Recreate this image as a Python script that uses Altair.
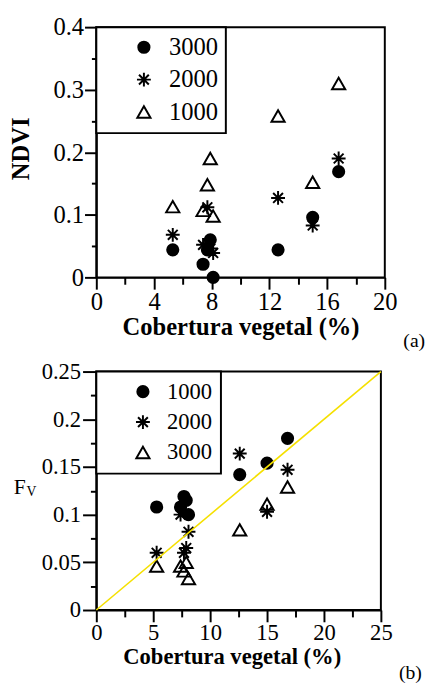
import altair as alt
import pandas as pd

SERIF = "Liberation Serif"

# ---- data ----
cover = [5.3, 7.4, 7.7, 7.9, 8.1, 12.6, 15.0, 16.8]
ndvi_3000 = [0.044, 0.021, 0.044, 0.060, 0.000, 0.044, 0.096, 0.169]
ndvi_2000 = [0.068, 0.052, 0.112, 0.046, 0.039, 0.127, 0.083, 0.190]
ndvi_1000 = [0.113, 0.107, 0.148, 0.190, 0.098, 0.258, 0.152, 0.310]

fv_1000 = [0.108, 0.108, 0.119, 0.115, 0.100, 0.142, 0.154, 0.180]
fv_2000 = [0.060, 0.100, 0.060, 0.065, 0.082, 0.164, 0.103, 0.147]
fv_3000 = [0.046, 0.046, 0.041, 0.050, 0.033, 0.084, 0.111, 0.129]

line_x = [0, 25]
line_y = [0, 0.25]

series_a = ["3000", "2000", "1000"]
series_b = ["1000", "2000", "3000"]

x_ticks_a = [0, 2, 4, 6, 8, 10, 12, 14, 16, 18, 20]
y_ticks_a = [0, 0.05, 0.1, 0.15, 0.2, 0.25, 0.3, 0.35, 0.4]
x_ticks_b = [0, 2.5, 5, 7.5, 10, 12.5, 15, 17.5, 20, 22.5, 25]
y_ticks_b = [0, 0.025, 0.05, 0.075, 0.1, 0.125, 0.15, 0.175, 0.2, 0.225, 0.25]

ASTERISK = ("M-1,0L1,0M0,-1L0,1M-0.7071,-0.7071L0.7071,0.7071"
            "M-0.7071,0.7071L0.7071,-0.7071")

df_a = pd.DataFrame({
    "cover": cover * 3,
    "val": ndvi_3000 + ndvi_2000 + ndvi_1000,
    "series": ["3000"] * 8 + ["2000"] * 8 + ["1000"] * 8,
})
df_b = pd.DataFrame({
    "cover": cover * 3,
    "val": fv_1000 + fv_2000 + fv_3000,
    "series": ["1000"] * 8 + ["2000"] * 8 + ["3000"] * 8,
})
df_line = pd.DataFrame({"cover": line_x, "val": line_y})


def make_axis(values, minor_test, fmt, font_size, major, minor, pad,
              title=None, title_size=None, title_x=None, title_y=None, baseline=None):
    kw = dict(
        values=values,
        format=fmt,
        labelExpr=f"({minor_test}) ? '' : datum.label",
        tickSize={"condition": {"test": minor_test, "value": minor}, "value": major},
        labelFontSize=font_size,
        labelPadding=pad,
        labelOverlap=False,
        labelFlush=False,
    )
    if baseline:
        kw["labelBaseline"] = baseline
    if title:
        kw.update(title=title, titleFont=SERIF, titleFontWeight="bold",
                  titleFontSize=title_size, titleBaseline="alphabetic",
                  titleY=title_y, titleColor="black")
        if title_x is not None:
            kw["titleX"] = title_x
    else:
        kw["title"] = None
    return alt.Axis(**kw)


def legend(font_size, padding, row_pad, sym_off, lab_off):
    return alt.Legend(
        title=None, orient="top-left", offset=0, padding=padding,
        strokeColor="black", fillColor="white",
        labelFont=SERIF, labelFontSize=font_size, labelColor="black",
        rowPadding=row_pad, symbolOffset=sym_off, labelOffset=lab_off,
        symbolStrokeWidth=2, symbolStrokeColor="black", symbolOpacity=1,
    )


def points(df, series, yaxis, xaxis, xdom, ydom, leg):
    return alt.Chart(df).mark_point(
        filled=False, opacity=1, strokeWidth=2
    ).encode(
        x=alt.X("cover:Q", scale=alt.Scale(domain=xdom, nice=False, zero=False), axis=xaxis),
        y=alt.Y("val:Q", scale=alt.Scale(domain=ydom, nice=False), axis=yaxis),
        shape=alt.Shape("series:N", scale=alt.Scale(domain=series,
                        range=["circle", ASTERISK, "triangle-up"]), legend=leg),
        fill=alt.Fill("series:N", scale=alt.Scale(domain=series,
                      range=["black", "transparent", "transparent"]), legend=leg),
        stroke=alt.Stroke("series:N", scale=alt.Scale(domain=series,
                          range=["black", "black", "black"]), legend=leg),
        size=alt.Size("series:N", scale=alt.Scale(type="ordinal", domain=series,
                      range=[130, 200, 180]), legend=leg),
    )


def label(text, x, y, size, weight="normal", angle=0, align="center", baseline="middle"):
    return alt.Chart(pd.DataFrame({"t": [text]})).mark_text(
        font=SERIF, fontSize=size, fontWeight=weight, angle=angle,
        align=align, baseline=baseline, color="black"
    ).encode(x=alt.value(x), y=alt.value(y), text="t:N")


W_A, H_A = 294, 255
W_B, H_B = 290, 243

xa = make_axis(x_ticks_a, "datum.value % 4 != 0", "d", 25, 12, 7, 21,
               title="Cobertura vegetal (%)", title_size=25, title_y=58,
               baseline="alphabetic")
ya = make_axis(y_ticks_a, "abs(datum.value*10 - round(datum.value*10)) > 0.001",
               ".1~f", 25, 12, 5, 1)
xb = make_axis(x_ticks_b, "datum.value % 5 != 0", "d", 23, 12, 7, 18,
               title="Cobertura vegetal (%)", title_size=23, title_y=55,
               title_x=138, baseline="alphabetic")
yb = make_axis(y_ticks_b, "abs(datum.value*20 - round(datum.value*20)) > 0.001",
               ".2~f", 23, 14, 6, 2)

top = alt.layer(
    points(df_a, series_a, ya, xa, [0, 20], [0, 0.4],
           legend(25, 8, 7, 28, 13)),
    label("NDVI", -77, 124, 25, weight="bold", angle=270),
    label("(a)", 324, 320, 20),
).properties(width=W_A, height=H_A)

line = alt.Chart(df_line).mark_line(color="#f5e000", strokeWidth=1.6).encode(
    x=alt.X("cover:Q", scale=alt.Scale(domain=[0, 25], nice=False), axis=xb),
    y=alt.Y("val:Q", scale=alt.Scale(domain=[0, 0.25], nice=False), axis=yb),
)

bottom = alt.layer(
    points(df_b, series_b, yb, xb, [0, 25], [0, 0.25],
           legend(23, 9, 7, 27, 13)),
    line,
    label("F", -78, 125, 22, align="center", baseline="alphabetic"),
    label("V", -66, 127, 14, align="center", baseline="alphabetic"),
    label("(b)", 320, 307, 20),
).properties(width=W_B, height=H_B)

chart = alt.vconcat(top, bottom, spacing=96, bounds="flush").resolve_scale(
    shape="independent", fill="independent", stroke="independent", size="independent"
).resolve_legend(
    shape="independent", fill="independent", stroke="independent", size="independent"
).properties(
    padding=0
).configure_view(
    stroke="black", strokeWidth=2
).configure_axis(
    grid=False, domainColor="black", domainWidth=2, tickColor="black",
    tickWidth=2, labelColor="black", labelFont=SERIF
).configure_legend(
    strokeWidth=2
)

chart.save("out.html", embed_options={"renderer": "svg", "actions": False})
